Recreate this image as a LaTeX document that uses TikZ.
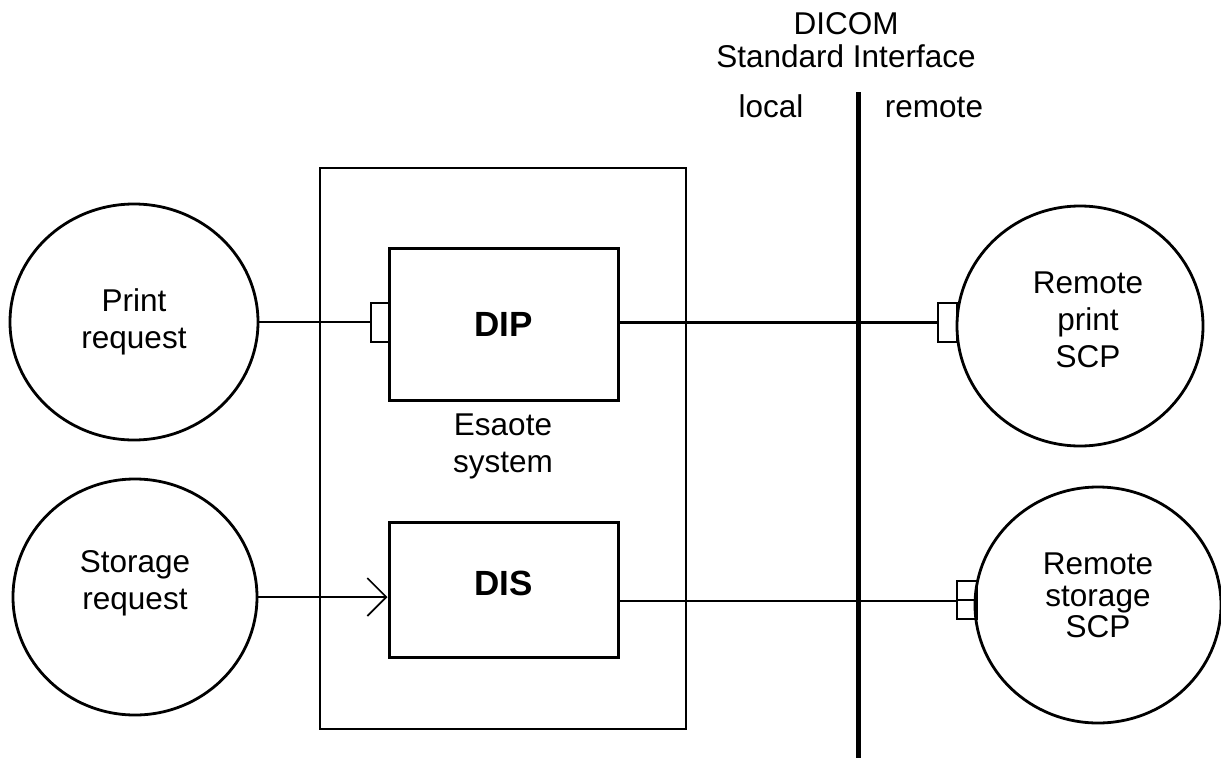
\documentclass[tikz,border=0pt]{standalone}
\usepackage{fontspec}
\setmainfont{Liberation Sans}
\usetikzlibrary{shapes.geometric,arrows.meta,calc}

\begin{document}
\begin{tikzpicture}[x=1pt,y=-1pt,
  txt/.style={font=\fontsize{31.5}{37}\selectfont, align=center, inner sep=0pt},
  tight/.style={font=\fontsize{31.5}{31.5}\selectfont, align=center, inner sep=0pt},
  bubble/.style={ellipse, draw, line width=2.8pt, inner sep=0pt},
  unit/.style={rectangle, draw, line width=3pt, inner sep=0pt,
    minimum width=229pt, font=\fontsize{35}{40}\selectfont\bfseries},
  frame/.style={rectangle, draw, line width=2.8pt, inner sep=0pt},
  port/.style={rectangle, draw, line width=1.7pt, inner sep=0pt},
  conn/.style={line width=2.3pt},
  iface/.style={line width=5pt}]

\useasboundingbox (0,0) rectangle (1221,758);

% interface line with its captions
\coordinate (itop) at (858,92);
\coordinate (ibot) at (858,758);
\draw[iface] (itop) -- (ibot);
\node[font=\fontsize{31.5}{33}\selectfont, align=center, inner sep=0pt] (dicom) at (846,40) {DICOM\\Standard Interface};
\node[txt, anchor=base] (local) at (771,117) {local};
\node[txt, anchor=base] (remote) at (934,117) {remote};

% the local system
\node[frame, minimum width=366pt, minimum height=561pt] (esaote) at (503,448.5) {};
\node[txt] (esaotelbl) at (503,446.5) {Esaote\\system};
\node[unit, minimum height=152pt] (dip) at (503.5,324) {DIP};
\node[unit, minimum height=135pt, text depth=13pt] (dis) at (503.5,589.5) {DIS};

% requesting entities
\node[bubble, txt, minimum width=248pt, minimum height=236pt] (preq) at (134,322) {Print\\request};
\node[bubble, minimum width=244pt, minimum height=236pt,
  label={[txt, yshift=13.5pt]center:Storage\\request}] (sreq) at (135,597) {};

% remote entities
\node[bubble, minimum width=246pt, minimum height=240pt,
  label={[txt, xshift=8pt, yshift=6pt]center:Remote\\print\\SCP}] (rprint) at (1080,326) {};
\node[bubble, minimum width=246pt, minimum height=236pt,
  label={[tight, yshift=9.5pt]center:Remote\\storage\\SCP}] (rstore) at (1098,605) {};

% interface ports
\node[port, minimum width=18pt, minimum height=39pt] (pdip) at (380,322.5) {};
\node[port, minimum width=19pt, minimum height=39pt] (pprint) at (947.5,322.5) {};
\node[port, minimum width=20pt, minimum height=19pt] (ps1) at (967,590.5) {};
\node[port, minimum width=20pt, minimum height=19pt] (ps2) at (967,609.5) {};

% connections
\draw[conn] (preq.east) -- (preq.east -| pdip.west);
\draw[conn] (dip.east |- pprint.west) -- (pprint.west);
\draw[conn, -{Straight Barb[length=19pt, width=38pt, line width=1.7pt]}] (sreq.east) -- (sreq.east -| dis.west);
\draw[conn] (dis.east |- ps1.south west) -- (ps1.south west);

\end{tikzpicture}
\end{document}
